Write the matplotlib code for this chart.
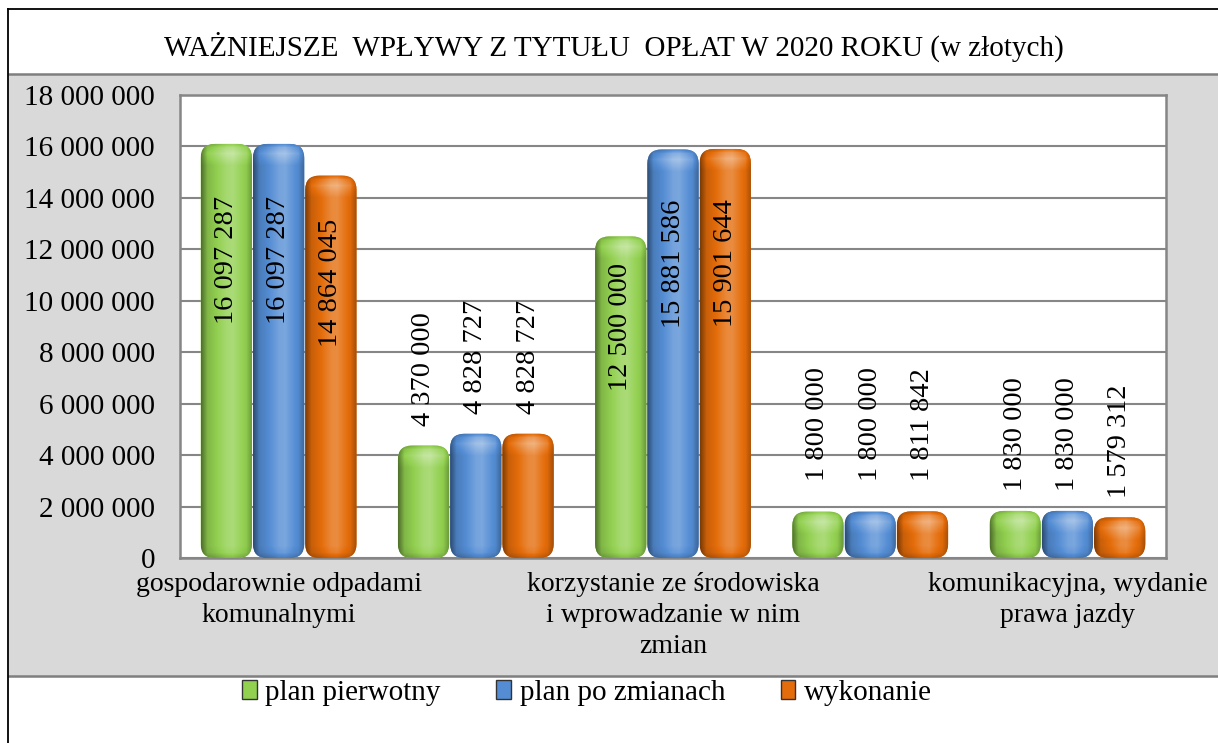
import numpy as np
import matplotlib
matplotlib.use("Agg")
import matplotlib.pyplot as plt
from matplotlib.patches import FancyBboxPatch, Rectangle
from matplotlib.lines import Line2D
from matplotlib.colors import to_rgb
from matplotlib.font_manager import FontProperties

# ---------------- data ----------------
categories = [
    "gospodarownie odpadami\nkomunalnymi",
    "",
    "korzystanie ze środowiska\ni wprowadzanie w nim\nzmian",
    "",
    "komunikacyjna, wydanie\nprawa jazdy",
]
series_names = ["plan pierwotny", "plan po zmianach", "wykonanie"]
plan_pierwotny = [16097287, 4370000, 12500000, 1800000, 1830000]
plan_po_zmianach = [16097287, 4828727, 15881586, 1800000, 1830000]
wykonanie = [14864045, 4828727, 15901644, 1811842, 1579312]
y_ticks = [0, 2000000, 4000000, 6000000, 8000000, 10000000,
           12000000, 14000000, 16000000, 18000000]
title = "WAŻNIEJSZE  WPŁYWY Z TYTUŁU  OPŁAT W 2020 ROKU (w złotych)"

# ---------------- style ----------------
colors = ["#92D050", "#548DD4", "#E46C0A"]
label_gap_pt = [14, 14, 14, 22, 14]   # gap above short bars, per group (layout)
FONT = "Liberation Serif"
plt.rcParams["font.family"] = [FONT, "DejaVu Serif"]

W, H = 1218, 743
fig = plt.figure(figsize=(W / 100, H / 100), dpi=100)
fig.patch.set_facecolor("white")

def fx(px):
    return px / W

def fy(py):
    return 1 - py / H

# gray band and separators (behind the axes)
fig.patches.append(Rectangle((fx(9), fy(676)), 1 - fx(9), fy(74) - fy(676),
                             transform=fig.transFigure, facecolor="#D9D9D9",
                             edgecolor="none", zorder=-3))
for yy in (74, 676):
    fig.lines.append(Line2D([fx(9), 1], [fy(yy), fy(yy)], transform=fig.transFigure,
                            color="#7F7F7F", lw=1.8, zorder=-2))
fig.lines.append(Line2D([fx(8), fx(8)], [0, fy(9)], transform=fig.transFigure,
                        color="black", lw=1.3, zorder=-2))
fig.lines.append(Line2D([fx(8), 1], [fy(9), fy(9)], transform=fig.transFigure,
                        color="black", lw=1.3, zorder=-2))

fig.text(fx(614), fy(47), title, ha="center", va="center", fontsize=21,
         family=FONT, color="black")

ax = fig.add_axes([fx(180), fy(558), fx(1166) - fx(180), fy(95) - fy(558)])
ax.set_zorder(1)
ax.set_facecolor("white")
ax.set_xlim(-0.5, len(categories) - 0.5)
ax.set_ylim(0, 18000000)

ax.set_yticks(y_ticks)
ax.set_yticklabels([f"{v:,}".replace(",", " ") for v in y_ticks], fontsize=21, family=FONT)
ax.set_xticks(range(len(categories)))
ax.set_xticklabels(categories, fontsize=20, family=FONT, linespacing=1.33)
ax.tick_params(axis="both", length=0)
ax.tick_params(axis="y", pad=18)
ax.tick_params(axis="x", pad=10)
ax.grid(axis="y", color="#868686", lw=1.5, zorder=0)
ax.set_axisbelow(True)
for s in ax.spines.values():
    s.set_color("#868686")
    s.set_linewidth(1.8)

# pixel scale
p0 = ax.transData.transform((0, 0))
p1 = ax.transData.transform((1, 1000000))
px_x = p1[0] - p0[0]            # px per category unit
px_y = (p1[1] - p0[1]) / 1e6    # px per value unit

def shade(color, ny, nx):
    base = np.array(to_rgb(color))
    t = np.linspace(0, 1, nx)
    f = np.interp(t, [0, 0.12, 0.5, 0.62, 0.88, 1], [0.55, 0.88, 1.12, 1.14, 0.97, 0.72])
    vy = np.arange(ny)
    g = np.interp(vy, [0, 4, 10, 22, 40], [0.85, 1.05, 1.14, 1.0, 1.0])
    gb = np.interp(ny - 1 - vy, [0, 5, 12], [0.8, 0.95, 1.0])
    F = f[None, :] * g[:, None] * gb[:, None]
    img = np.empty((ny, nx, 3))
    for c in range(3):
        dark = base[c] * F
        light = base[c] + (1 - base[c]) * (F - 1) * 1.6
        img[..., c] = np.where(F < 1, dark, light)
    return np.clip(img, 0, 1)

all_series = [plan_pierwotny, plan_po_zmianach, wykonanie]
offsets = [-0.265, 0.0, 0.265]
bw = 0.26
x = np.arange(len(categories))
radius_px = 14

for si, (vals, col) in enumerate(zip(all_series, colors)):
    bars = ax.bar(x + offsets[si], vals, bw, color="none", edgecolor="none",
                  label=series_names[si], zorder=2)
    for gi, (rect, v) in enumerate(zip(bars, vals)):
        x0, y0 = rect.get_x(), rect.get_y()
        w, h = rect.get_width(), rect.get_height()
        r = radius_px / px_x
        patch = FancyBboxPatch((x0, y0), w, h,
                               boxstyle=f"round,pad=0,rounding_size={r}",
                               mutation_aspect=px_x / px_y,
                               facecolor=col, edgecolor="none", zorder=3)
        ax.add_patch(patch)
        ny = max(int(h * px_y), 4)
        nx = max(int(w * px_x), 4)
        im = ax.imshow(shade(col, ny, nx), extent=(x0, x0 + w, y0, y0 + h),
                       origin="upper", aspect="auto", interpolation="bilinear",
                       zorder=4)
        im.set_clip_path(patch)
        label = f"{v:,}".replace(",", " ")
        xc = x0 + w / 2
        if v > 10000000:
            ax.text(xc, v * 0.72, label, rotation=90, ha="center", va="center",
                    fontsize=20.5, family=FONT, zorder=5)
        else:
            ax.annotate(label, (xc, v), xytext=(0, label_gap_pt[gi]),
                        textcoords="offset points", rotation=90, ha="center",
                        va="bottom", fontsize=20.5, family=FONT, zorder=5)

ax.set_xlim(-0.5, len(categories) - 0.5)
ax.set_ylim(0, 18000000)

handles = [Rectangle((0, 0), 1, 1, facecolor=c, edgecolor="#333333", lw=1.0) for c in colors]
fig.legend(handles, series_names, loc="center", bbox_to_anchor=(fx(587), fy(693)),
           ncol=3, frameon=False, prop=FontProperties(family=FONT, size=21),
           handlelength=0.5, handleheight=0.6, handletextpad=0.3, columnspacing=1.9)

fig.savefig("out.png", dpi=100, facecolor="white")
